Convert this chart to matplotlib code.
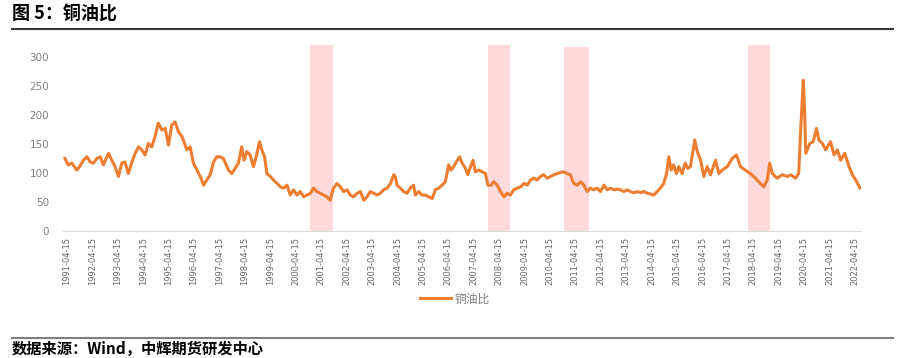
import matplotlib
matplotlib.use("Agg")
from matplotlib import pyplot as plt
from matplotlib.lines import Line2D

plt.rcParams['font.family'] = ['DejaVu Sans', 'Noto Sans CJK SC']

# copper/oil ratio (decimal year, value)
years = [
    1991.21, 1991.33, 1991.48, 1991.67, 1991.80, 1991.93, 1992.07, 1992.20, 1992.33, 1992.46,
    1992.59, 1992.72, 1992.92, 1993.05, 1993.18, 1993.31, 1993.44, 1993.57, 1993.70, 1993.84,
    1993.97, 1994.10, 1994.23, 1994.36, 1994.49, 1994.62, 1994.75, 1994.88, 1995.02, 1995.15,
    1995.28, 1995.41, 1995.54, 1995.67, 1995.81, 1996.00, 1996.13, 1996.26, 1996.40, 1996.53,
    1996.66, 1996.79, 1996.92, 1997.05, 1997.18, 1997.31, 1997.44, 1997.64, 1997.77, 1997.90,
    1998.03, 1998.16, 1998.25, 1998.36, 1998.49, 1998.62, 1998.73, 1998.86, 1998.95, 1999.06,
    1999.15, 1999.28, 1999.41, 1999.55, 1999.68, 1999.81, 1999.94, 2000.07, 2000.20, 2000.33,
    2000.46, 2000.59, 2000.73, 2000.86, 2000.99, 2001.12, 2001.25, 2001.38, 2001.51, 2001.64,
    2001.77, 2001.91, 2002.04, 2002.17, 2002.30, 2002.43, 2002.56, 2002.70, 2002.83, 2002.96,
    2003.09, 2003.22, 2003.35, 2003.48, 2003.61, 2003.74, 2003.88, 2004.01, 2004.14, 2004.20,
    2004.27, 2004.40, 2004.53, 2004.66, 2004.79, 2004.92, 2004.99, 2005.12, 2005.25, 2005.38,
    2005.51, 2005.65, 2005.78, 2005.91, 2006.04, 2006.17, 2006.30, 2006.39, 2006.50, 2006.60,
    2006.73, 2006.83, 2006.96, 2007.05, 2007.16, 2007.26, 2007.35, 2007.48, 2007.62, 2007.75,
    2007.84, 2007.97, 2008.07, 2008.21, 2008.34, 2008.47, 2008.60, 2008.73, 2008.86, 2009.00,
    2009.13, 2009.26, 2009.39, 2009.52, 2009.65, 2009.78, 2009.91, 2010.04, 2010.18, 2010.31,
    2010.44, 2010.57, 2010.70, 2010.83, 2010.96, 2011.09, 2011.22, 2011.36, 2011.49, 2011.62,
    2011.75, 2011.88, 2012.01, 2012.14, 2012.27, 2012.41, 2012.54, 2012.67, 2012.80, 2012.93,
    2013.06, 2013.19, 2013.32, 2013.45, 2013.58, 2013.72, 2013.85, 2013.98, 2014.11, 2014.24,
    2014.37, 2014.50, 2014.63, 2014.76, 2014.87, 2014.96, 2015.05, 2015.15, 2015.26, 2015.35,
    2015.48, 2015.61, 2015.70, 2015.81, 2015.92, 2015.98, 2016.08, 2016.21, 2016.34, 2016.47,
    2016.60, 2016.80, 2016.93, 2017.06, 2017.26, 2017.45, 2017.62, 2017.78, 2017.97, 2018.17,
    2018.37, 2018.56, 2018.70, 2018.83, 2018.93, 2019.03, 2019.22, 2019.42, 2019.62, 2019.75,
    2019.94, 2020.07, 2020.14, 2020.21, 2020.25, 2020.30, 2020.35, 2020.51, 2020.64, 2020.77,
    2020.86, 2021.00, 2021.13, 2021.32, 2021.46, 2021.59, 2021.72, 2021.88, 2022.05, 2022.18,
    2022.31, 2022.48,
]
ratio = [
    125, 114, 117, 105, 112, 122, 128, 119, 117, 125,
    128, 114, 134, 122, 111, 94, 117, 119, 99, 119,
    134, 145, 140, 131, 151, 145, 163, 186, 174, 177,
    148, 183, 188, 171, 163, 140, 145, 117, 105, 94,
    79, 88, 97, 119, 128, 128, 125, 105, 99, 108,
    117, 145, 122, 137, 131, 111, 128, 154, 140, 128,
    99, 94, 88, 82, 76, 74, 79, 62, 71, 62,
    68, 59, 62, 65, 74, 68, 65, 62, 59, 53,
    74, 82, 76, 68, 71, 62, 59, 65, 68, 53,
    59, 68, 65, 62, 65, 71, 74, 82, 97, 94,
    79, 74, 68, 65, 74, 79, 62, 68, 62, 62,
    59, 56, 71, 74, 79, 85, 114, 105, 111, 119,
    128, 117, 108, 97, 111, 122, 102, 105, 102, 99,
    79, 79, 85, 79, 68, 59, 65, 62, 71, 74,
    76, 82, 79, 88, 91, 88, 94, 97, 91, 94,
    97, 99, 101, 102, 99, 97, 82, 79, 85, 79,
    68, 74, 71, 74, 68, 79, 71, 74, 71, 72,
    71, 68, 71, 68, 66, 68, 66, 68, 65, 64,
    62, 68, 74, 82, 99, 128, 105, 114, 99, 111,
    99, 117, 108, 111, 140, 157, 137, 122, 94, 111,
    97, 122, 99, 105, 111, 125, 131, 111, 105, 99,
    91, 82, 76, 88, 117, 99, 91, 97, 94, 97,
    91, 99, 168, 226, 260, 209, 134, 151, 154, 177,
    157, 151, 140, 154, 131, 140, 122, 134, 111, 97,
    88, 74,
]

# shaded periods (start, end, top)
shade_start = [2000.86, 2007.83, 2010.82, 2018.06]
shade_end = [2001.76, 2008.73, 2011.84, 2018.93]
shade_top = [320, 320, 318, 320]

tick_years = list(range(1991, 2023))
tick_labels = [f"{y}-04-15" for y in tick_years]

W, H = 910, 358
fig = plt.figure(figsize=(W / 100, H / 100), dpi=100)
ax = fig.add_axes([63 / W, 1 - 231 / H, 798 / W, 185.6 / H])

for s, e, t in zip(shade_start, shade_end, shade_top):
    ax.fill_between([s, e], 0, t, color='#FFDADC', lw=0, zorder=1)

ax.plot(years, ratio, color='#ED7D31', lw=2.2, zorder=3, solid_joinstyle='round')

ax.set_xlim(1991.13, 2022.52)
ax.set_ylim(0, 320)
ax.set_yticks(range(0, 301, 50))
ax.set_xticks([y + 0.285 for y in tick_years])
ax.set_xticklabels(tick_labels, rotation=90, fontsize=6, color='#666666')
ax.tick_params(axis='y', labelsize=7.5, labelcolor='#808080', length=0, pad=10)
ax.tick_params(axis='x', length=0, pad=4)
for side in ['top', 'right', 'left']:
    ax.spines[side].set_visible(False)
ax.spines['bottom'].set_color('#D9D9D9')
ax.spines['bottom'].set_linewidth(0.8)

handle = Line2D([], [], color='#ED7D31', lw=2.2)
fig.legend([handle], ['铜油比'], loc='center', bbox_to_anchor=(0.5, 1 - 299 / H),
           frameon=False, handlelength=2.6, handletextpad=0.3,
           prop={'family': ['Noto Sans CJK SC', 'DejaVu Sans'], 'size': 8.5},
           labelcolor='#7F7F7F')

fig.text(12 / W, 1 - 14 / H, '图 5：铜油比', ha='left', va='center', fontsize=13,
         fontweight='bold', family=['Noto Sans CJK SC', 'DejaVu Sans'])
fig.add_artist(Line2D([12 / W, 893 / W], [1 - 28.5 / H] * 2, color='#3A3A3A', lw=1.5))
fig.add_artist(Line2D([12 / W, 893 / W], [1 - 338 / H] * 2, color='#7F7F7F', lw=1.5))
fig.text(12 / W, 1 - 349 / H, '数据来源：Wind，中辉期货研发中心', ha='left', va='center',
         fontsize=11, fontweight='bold', family=['Noto Sans CJK SC', 'DejaVu Sans'])

fig.savefig('out.png', dpi=100)
